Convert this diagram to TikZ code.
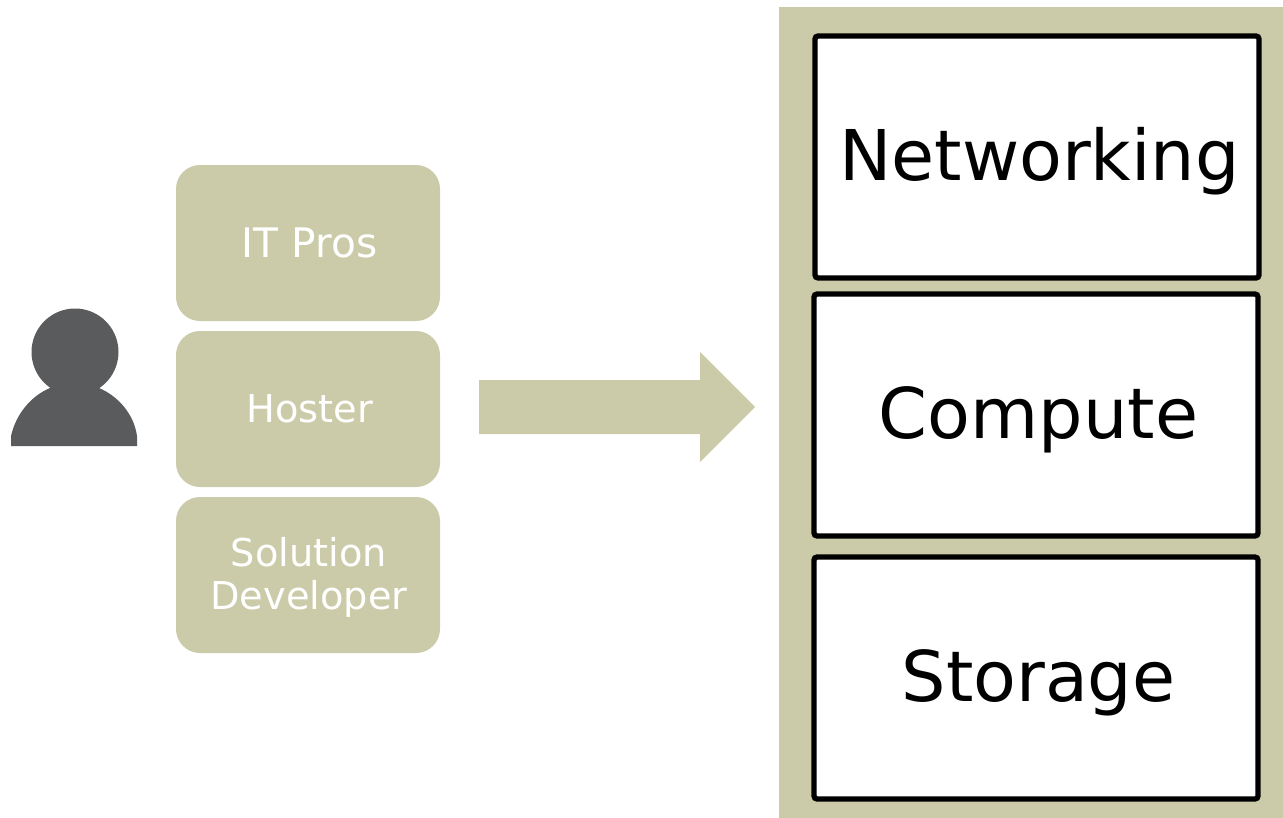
\documentclass[tikz,border=0pt]{standalone}
\usepackage{fontspec}
\setmainfont{DejaVu Sans}
\definecolor{khaki}{HTML}{CBCBA9}
\definecolor{person}{HTML}{5A5B5D}
\newdimen\unitpx \unitpx=0.6pt
\newcommand{\layertext}[1]{\raisebox{0pt}[37.6pt][10pt]{\hspace*{3pt}#1}}
\tikzset{
 rolebox/.style={fill=khaki,rounded corners=24\unitpx,text=white,font=\fontsize{23}{26}\selectfont,align=center,anchor=north west,inner sep=0pt,outer sep=0pt,minimum width=264\unitpx,minimum height=156\unitpx},
 layerbox/.style={fill=white,draw=black,line width=5.3\unitpx,rounded corners=3\unitpx,font=\fontsize{42}{48}\selectfont,anchor=center,inner sep=0pt,outer sep=0pt,minimum width=444\unitpx,minimum height=242\unitpx},
}
\begin{document}
\begin{tikzpicture}[x=0.6pt,y=-0.6pt]
\useasboundingbox (0,0) rectangle (1283,818);
\fill[khaki] (779,7) rectangle (1283,818);
\node[layerbox] (net) at (1037,157) {\layertext{Networking}};
\node[layerbox] (comp) at (1036,415) {\layertext{Compute}};
\node[layerbox] (stor) at (1036,678) {\layertext{Storage}};
\node[rolebox,font=\fontsize{24.4}{26}\selectfont] (it) at (176,165) {\hspace*{2pt}IT Pros};
\node[rolebox] (host) at (176,331) {\hspace*{2pt}Hoster};
\node[rolebox] (sol) at (176,497) {\rule{0pt}{20.5pt}\hspace*{1pt}Solution\\\hspace*{1pt}Developer};
\fill[khaki] (479,380) -- (700,380) -- (700,352) -- (755,407) -- (700,462) -- (700,434) -- (479,434) -- cycle;
\fill[person] (75,352) circle[radius=43.5];
\fill[person] (11,446) -- (137,446) -- (137,436) .. controls (134,414) and (118,396) .. (99,388) -- (50,388) .. controls (31,396) and (16,414) .. (11,436) -- cycle;
\end{tikzpicture}
\end{document}
